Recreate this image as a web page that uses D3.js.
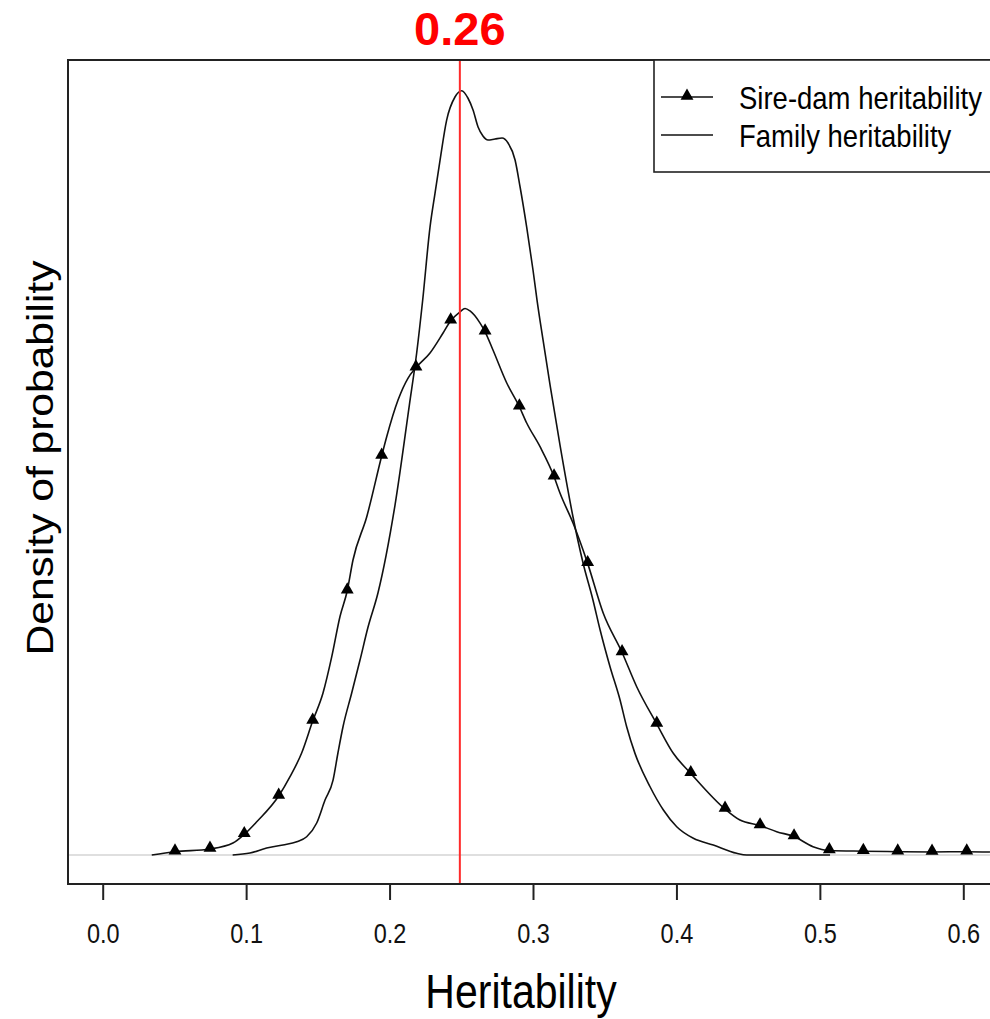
<!DOCTYPE html>
<html>
<head>
<meta charset="utf-8">
<script src="https://cdn.jsdelivr.net/npm/d3@7"></script>
<style>
  body { margin: 0; background: #fff; }
  svg { display: block; }
</style>
</head>
<body>
<div id="chart"></div>
<script>
// Data
const xTicks = [0.0, 0.1, 0.2, 0.3, 0.4, 0.5, 0.6];
const markedValue = 0.249;
const markedLabel = "0.26";
const seriesNames = ["Sire-dam heritability", "Family heritability"];

// [heritability, density]
const familyCurve = [
    [0.0906, 0], [0.1027, 0.021], [0.1143, 0.073], [0.1257, 0.105], [0.1353, 0.139],
    [0.1422, 0.191], [0.1492, 0.335], [0.1550, 0.575], [0.1606, 0.784], [0.1640, 1.067],
    [0.1675, 1.339], [0.1736, 1.694], [0.1794, 2.039], [0.1850, 2.384], [0.1919, 2.740],
    [0.2038, 3.660], [0.2138, 4.706], [0.2189, 5.250], [0.2231, 5.804], [0.2282, 6.567],
    [0.2317, 6.923], [0.2352, 7.268], [0.2398, 7.686], [0.2456, 7.927], [0.2503, 7.993],
    [0.2547, 7.914], [0.2582, 7.791], [0.2617, 7.613], [0.2651, 7.519], [0.2686, 7.477],
    [0.2735, 7.488], [0.2784, 7.498], [0.2826, 7.446], [0.2875, 7.268], [0.2910, 6.986],
    [0.2956, 6.567], [0.3000, 6.118], [0.3028, 5.804], [0.3070, 5.386], [0.3119, 4.915],
    [0.3188, 4.288], [0.3279, 3.535], [0.3349, 3.054], [0.3418, 2.667], [0.3468, 2.353],
    [0.3537, 1.969], [0.3607, 1.621], [0.3653, 1.342], [0.3711, 1.063], [0.3816, 0.714],
    [0.3909, 0.471], [0.4002, 0.296], [0.4118, 0.175], [0.4257, 0.105], [0.4420, 0.018],
    [0.4490, 0], [0.5071, 0]
];

const sireDamCurve = [
    [0.0342, 0], [0.0504, 0.035], [0.0748, 0.063], [0.0908, 0.125], [0.0987, 0.216],
    [0.1074, 0.348], [0.1227, 0.617], [0.1306, 0.819], [0.1387, 1.067], [0.1464, 1.401],
    [0.1536, 1.694], [0.1597, 2.074], [0.1654, 2.492], [0.1705, 2.764], [0.1745, 3.085],
    [0.1841, 3.538], [0.1945, 4.173], [0.1980, 4.374], [0.2059, 4.758], [0.2129, 4.988],
    [0.2184, 5.096], [0.2282, 5.250], [0.2373, 5.459], [0.2426, 5.587], [0.2491, 5.680],
    [0.2526, 5.716], [0.2561, 5.690], [0.2631, 5.563], [0.2666, 5.472], [0.2721, 5.281],
    [0.2817, 4.936], [0.2905, 4.688], [0.2956, 4.518], [0.3049, 4.270], [0.3147, 3.956],
    [0.3188, 3.786], [0.3279, 3.472], [0.3381, 3.050], [0.3490, 2.528], [0.3621, 2.118],
    [0.3723, 1.760], [0.3863, 1.370], [0.3978, 1.064], [0.4100, 0.854], [0.4339, 0.481],
    [0.4443, 0.366], [0.4583, 0.308], [0.4699, 0.244], [0.4820, 0.193], [0.4952, 0.087],
    [0.5066, 0.047], [0.5303, 0.040], [0.5543, 0.035], [0.5782, 0.032], [0.6024, 0.035],
    [0.6186, 0.032]
];

const sireDamMarkers = [
    [0.0504, 0.035], [0.0748, 0.063], [0.0987, 0.216], [0.1227, 0.617], [0.1464, 1.401],
    [0.1705, 2.764], [0.1945, 4.173], [0.2184, 5.096], [0.2426, 5.587], [0.2666, 5.472],
    [0.2905, 4.688], [0.3147, 3.956], [0.3381, 3.050], [0.3621, 2.118], [0.3863, 1.370],
    [0.4100, 0.854], [0.4339, 0.481], [0.4583, 0.308], [0.4820, 0.193], [0.5066, 0.047],
    [0.5303, 0.040], [0.5543, 0.035], [0.5782, 0.032], [0.6024, 0.035]
];

// Layout
const width = 990, height = 1019;
const box = { left: 68, top: 60, bottom: 884, right: 1010 };
const stretch = 1.15; // picture is a bit stretched vertically

const x = d3.scaleLinear().domain([0, 0.6]).range([102.7, 963.3]);
const y = d3.scaleLinear().domain([-0.303, 8.314]).range([box.bottom, box.top]);

const svg = d3.select("#chart").append("svg")
    .attr("width", width)
    .attr("height", height);

//Zero line
svg.append("line")
    .attr("x1", box.left).attr("x2", width)
    .attr("y1", y(0)).attr("y2", y(0))
    .style("stroke", "#d4d4d4")
    .style("stroke-width", 1.5);

//Curves
const line = d3.line()
    .x(d => x(d[0]))
    .y(d => y(d[1]))
    .curve(d3.curveMonotoneX);

svg.append("path")
    .datum(familyCurve)
    .attr("d", line)
    .style("fill", "none")
    .style("stroke", "#111")
    .style("stroke-width", 1.6);

svg.append("path")
    .datum(sireDamCurve)
    .attr("d", line)
    .style("fill", "none")
    .style("stroke", "#111")
    .style("stroke-width", 1.6);

const triangle = d3.symbol().type(d3.symbolTriangle).size(72);

svg.selectAll("path.marker")
    .data(sireDamMarkers)
    .join("path")
    .attr("class", "marker")
    .attr("d", triangle)
    .attr("transform", d => `translate(${x(d[0])},${y(d[1]) - 1})`)
    .style("fill", "#000");

//Red marked value
svg.append("line")
    .attr("x1", x(markedValue)).attr("x2", x(markedValue))
    .attr("y1", box.top).attr("y2", box.bottom)
    .style("stroke", "#ff2a2a")
    .style("stroke-width", 2);

svg.append("text")
    .attr("x", x(markedValue))
    .attr("y", 45)
    .attr("text-anchor", "middle")
    .style("font-family", "'Liberation Sans', Arial, sans-serif")
    .style("font-weight", "bold")
    .style("font-size", "47px")
    .style("fill", "#ff0000")
    .text(markedLabel);

//Frame
svg.append("rect")
    .attr("x", box.left)
    .attr("y", box.top)
    .attr("width", box.right - box.left)
    .attr("height", box.bottom - box.top)
    .style("fill", "none")
    .style("stroke", "#222")
    .style("stroke-width", 2);

//X axis
const xAxis = svg.append("g")
    .attr("transform", `translate(0,${box.bottom})`)
    .call(d3.axisBottom(x).tickValues(xTicks).tickFormat(d3.format(".1f")).tickSize(16));

xAxis.select(".domain").remove();
xAxis.selectAll(".tick line")
    .style("stroke", "#222")
    .style("stroke-width", 2);
xAxis.selectAll(".tick text")
    .attr("y", 0)
    .attr("dy", 0)
    .attr("transform", "translate(0,59) scale(1,1.2)")
    .style("font-family", "'Liberation Sans', Arial, sans-serif")
    .style("font-size", "23.5px")
    .style("fill", "#111");

//Axis titles
svg.append("text")
    .attr("transform", `translate(521,1008) scale(1,${stretch})`)
    .attr("text-anchor", "middle")
    .style("font-family", "'Liberation Sans', Arial, sans-serif")
    .style("font-size", "41px")
    .style("fill", "#000")
    .text("Heritability");

svg.append("text")
    .attr("transform", `translate(53,458) rotate(-90) scale(${stretch},1)`)
    .attr("text-anchor", "middle")
    .style("font-family", "'Liberation Sans', Arial, sans-serif")
    .style("font-size", "37px")
    .style("fill", "#000")
    .text("Density of probability");

//Legend
const legend = svg.append("g");

legend.append("rect")
    .attr("x", 654)
    .attr("y", box.top)
    .attr("width", 400)
    .attr("height", 112)
    .style("fill", "#fff")
    .style("stroke", "#222")
    .style("stroke-width", 1.6);

const rows = [97, 135];
rows.forEach((ry, i) => {
    legend.append("line")
        .attr("x1", 661).attr("x2", 713)
        .attr("y1", ry).attr("y2", ry)
        .style("stroke", "#111")
        .style("stroke-width", 1.6);
    if (i === 0) {
        legend.append("path")
            .attr("d", triangle)
            .attr("transform", `translate(687,${ry - 1})`)
            .style("fill", "#000");
    }
    legend.append("text")
        .attr("transform", `translate(739,${ry + 12}) scale(1,1.12)`)
        .style("font-family", "'Liberation Sans', Arial, sans-serif")
        .style("font-size", "27.5px")
        .style("fill", "#000")
        .text(seriesNames[i]);
});
</script>
</body>
</html>
